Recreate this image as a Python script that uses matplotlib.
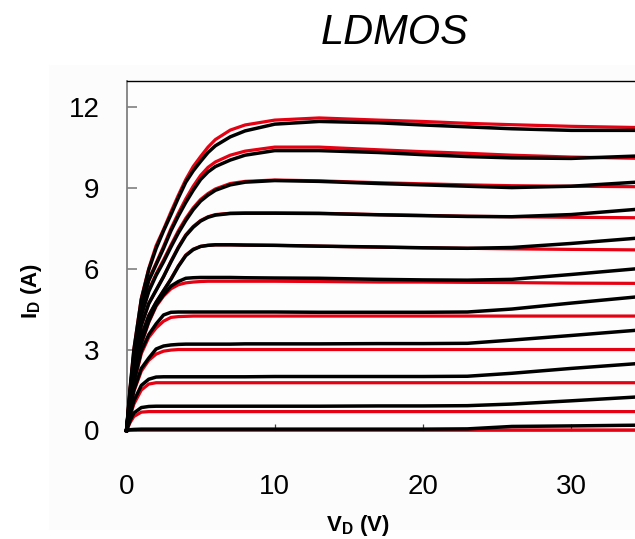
import matplotlib
matplotlib.use("Agg")
import matplotlib.pyplot as plt
from matplotlib.patches import Rectangle

plt.rcParams['font.family'] = ['Liberation Sans', 'DejaVu Sans']
plt.rcParams['mathtext.fontset'] = 'custom'
plt.rcParams['mathtext.rm'] = 'Liberation Sans'
plt.rcParams['mathtext.bf'] = 'Liberation Sans:bold'

# drain voltage grid (V)
vd = [0, 0.25, 0.5, 1, 1.5, 2, 2.5, 3, 3.5, 4, 4.5, 5, 5.5, 6, 7, 8, 10, 13, 17, 20, 23, 26, 30, 35]

# model curves (red), one per gate step, top to bottom (A)
red_id = [
    [0, 1.6, 3.0, 4.9, 6.0, 6.85, 7.45, 8.1, 8.72, 9.3, 9.78, 10.15, 10.5, 10.78, 11.13, 11.32, 11.5, 11.58, 11.5, 11.45, 11.38, 11.33, 11.27, 11.22],
    [0, 1.5, 2.8, 4.6, 5.6, 6.2, 6.82, 7.48, 8.05, 8.58, 9.05, 9.45, 9.75, 9.95, 10.2, 10.35, 10.5, 10.5, 10.4, 10.33, 10.27, 10.2, 10.13, 10.08],
    [0, 1.4, 2.6, 4.3, 5.2, 5.8, 6.32, 6.87, 7.4, 7.86, 8.25, 8.56, 8.78, 8.95, 9.15, 9.23, 9.28, 9.25, 9.18, 9.14, 9.1, 9.07, 9.05, 9.03],
    [0, 1.3, 2.4, 3.9, 4.7, 5.2, 5.7, 6.27, 6.8, 7.25, 7.56, 7.78, 7.92, 8.0, 8.05, 8.06, 8.06, 8.05, 8.0, 7.97, 7.94, 7.92, 7.9, 7.88],
    [0, 1.2, 2.2, 3.5, 4.25, 4.75, 5.18, 5.62, 6.1, 6.5, 6.72, 6.82, 6.86, 6.88, 6.88, 6.87, 6.86, 6.83, 6.79, 6.77, 6.75, 6.73, 6.71, 6.69],
    [0, 1.1, 2.0, 3.2, 4.0, 4.6, 4.98, 5.25, 5.4, 5.47, 5.5, 5.52, 5.53, 5.53, 5.53, 5.53, 5.53, 5.52, 5.5, 5.5, 5.49, 5.48, 5.46, 5.45],
    [0, 0.95, 1.75, 2.85, 3.45, 3.8, 4.05, 4.19, 4.22, 4.23, 4.24, 4.24, 4.24, 4.24, 4.24, 4.24, 4.24, 4.24, 4.24, 4.24, 4.24, 4.24, 4.24, 4.24],
    [0, 0.8, 1.45, 2.2, 2.6, 2.83, 2.94, 2.98, 3.0, 3.0, 3.0, 3.0, 3.0, 3.0, 3.0, 3.0, 3.0, 3.0, 3.0, 3.0, 3.0, 3.0, 3.0, 3.0],
    [0, 0.55, 0.98, 1.5, 1.72, 1.77, 1.77, 1.77, 1.77, 1.77, 1.77, 1.77, 1.77, 1.77, 1.77, 1.77, 1.77, 1.77, 1.77, 1.77, 1.77, 1.77, 1.77, 1.77],
    [0, 0.3, 0.52, 0.68, 0.7, 0.7, 0.7, 0.7, 0.7, 0.7, 0.7, 0.7, 0.7, 0.7, 0.7, 0.7, 0.7, 0.7, 0.7, 0.7, 0.7, 0.7, 0.7, 0.7],
    [0, 0.02, 0.02, 0.02, 0.02, 0.02, 0.02, 0.02, 0.02, 0.02, 0.02, 0.02, 0.02, 0.02, 0.02, 0.02, 0.02, 0.02, 0.02, 0.02, 0.02, 0.02, 0.02, 0.02],
]

# measured curves (black)
black_id = [
    [0, 1.6, 3.0, 4.85, 5.95, 6.75, 7.4, 8.0, 8.62, 9.2, 9.62, 9.97, 10.3, 10.55, 10.88, 11.1, 11.35, 11.45, 11.4, 11.32, 11.25, 11.18, 11.12, 11.12],
    [0, 1.5, 2.8, 4.55, 5.55, 6.15, 6.75, 7.4, 7.95, 8.45, 8.9, 9.3, 9.58, 9.78, 10.02, 10.2, 10.37, 10.37, 10.3, 10.22, 10.15, 10.1, 10.08, 10.18],
    [0, 1.4, 2.6, 4.25, 5.15, 5.75, 6.25, 6.8, 7.32, 7.78, 8.18, 8.5, 8.72, 8.9, 9.1, 9.2, 9.26, 9.23, 9.15, 9.1, 9.05, 9.0, 9.05, 9.22],
    [0, 1.3, 2.4, 3.9, 4.7, 5.2, 5.7, 6.25, 6.77, 7.22, 7.53, 7.76, 7.9, 7.98, 8.04, 8.05, 8.05, 8.04, 7.99, 7.96, 7.93, 7.92, 8.0, 8.22],
    [0, 1.2, 2.2, 3.5, 4.25, 4.75, 5.18, 5.6, 6.08, 6.48, 6.7, 6.82, 6.86, 6.88, 6.88, 6.87, 6.86, 6.83, 6.8, 6.77, 6.75, 6.78, 6.93, 7.15],
    [0, 1.1, 2.0, 3.25, 4.05, 4.65, 5.03, 5.35, 5.52, 5.64, 5.66, 5.67, 5.67, 5.67, 5.67, 5.66, 5.65, 5.64, 5.6, 5.58, 5.57, 5.6, 5.78, 6.02],
    [0, 0.95, 1.8, 2.95, 3.55, 3.95, 4.28, 4.38, 4.39, 4.39, 4.39, 4.39, 4.39, 4.39, 4.39, 4.39, 4.39, 4.38, 4.38, 4.38, 4.39, 4.5, 4.72, 4.98],
    [0, 0.8, 1.5, 2.3, 2.68, 3.02, 3.13, 3.17, 3.19, 3.2, 3.2, 3.2, 3.2, 3.2, 3.2, 3.21, 3.21, 3.21, 3.22, 3.22, 3.23, 3.35, 3.52, 3.74],
    [0, 0.6, 1.1, 1.67, 1.9, 1.98, 1.99, 1.99, 1.99, 1.99, 1.99, 1.99, 1.99, 1.99, 1.99, 1.99, 2.0, 2.0, 2.0, 2.0, 2.01, 2.12, 2.3, 2.5],
    [0, 0.38, 0.65, 0.85, 0.89, 0.9, 0.9, 0.9, 0.9, 0.9, 0.9, 0.9, 0.9, 0.9, 0.9, 0.9, 0.9, 0.9, 0.91, 0.91, 0.92, 0.98, 1.1, 1.26],
    [0, 0.03, 0.04, 0.05, 0.05, 0.05, 0.05, 0.05, 0.05, 0.05, 0.05, 0.05, 0.05, 0.05, 0.05, 0.05, 0.05, 0.05, 0.05, 0.05, 0.06, 0.15, 0.17, 0.2],
]

x_ticks = [0, 10, 20, 30]
y_ticks = [0, 3, 6, 9, 12]

fig = plt.figure(figsize=(6.35, 5.39), dpi=100)
fig.patches.append(Rectangle((49 / 635, 9 / 539), 586 / 635, 465 / 539,
                             transform=fig.transFigure, facecolor='#fcfcfc',
                             edgecolor='none', zorder=-10))
ax = fig.add_axes([126.5 / 635, 108.5 / 539, 1 - 126.5 / 635, 349.8 / 539])
ax.set_facecolor('#fdfdfd')

for curve in red_id:
    ax.plot(vd, curve, color='#e50012', lw=2.3, zorder=3, clip_on=False)
for curve in black_id:
    ax.plot(vd, curve, color='black', lw=2.5, zorder=4, clip_on=False)

ax.set_xlim(0, 34.31)
ax.set_ylim(0, 12.96)
ax.set_xticks(x_ticks)
ax.set_yticks(y_ticks)

ax.spines['right'].set_visible(False)
ax.spines['top'].set_linewidth(1.0)
ax.spines['top'].set_color('black')
ax.spines['left'].set_color('#808080')
ax.spines['left'].set_linewidth(1.3)
ax.spines['bottom'].set_color('#808080')
ax.spines['bottom'].set_linewidth(1.3)

ax.tick_params(axis='y', direction='in', length=7.5, width=1.2, color='#808080',
               labelsize=20, pad=19.5)
ax.tick_params(axis='x', direction='in', length=5, width=0.9, color='#404040',
               labelsize=20, pad=31)

fig.text(395 / 635, 1 - 33 / 539, 'LDMOS', fontsize=30, style='italic',
         ha='center', va='center')
fig.text(358 / 635, 1 - 525 / 539, r'V$_\mathbf{D}$ (V)', fontsize=16,
         fontweight='bold', ha='center', va='center')
fig.text(32 / 635, 1 - 291 / 539, r'I$_\mathbf{D}$ (A)', fontsize=16,
         fontweight='bold', ha='center', va='center', rotation=90)

fig.savefig('out.png', dpi=100)
